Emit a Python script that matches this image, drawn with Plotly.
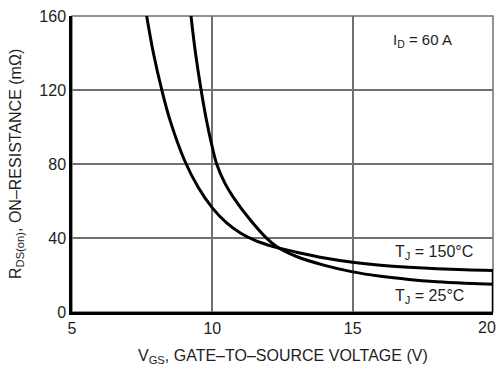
import plotly.graph_objects as go

# Data
vgs_150 = [7.66, 7.9, 8.2, 8.5, 9.0, 9.5, 10.0, 10.5, 11.0, 11.5, 12.0, 12.5, 13.0, 14.0, 15.0, 16.0, 17.0, 18.0, 19.0, 20.0]
r_150 = [160, 140, 120, 103.3, 82.3, 67.3, 56.3, 48.3, 42.7, 38.8, 36.1, 34.1, 32.3, 29.2, 26.9, 25.3, 24.2, 23.4, 22.8, 22.4]

vgs_25 = [9.24, 9.4, 9.6, 9.8, 10.0, 10.155, 10.45, 10.75, 11.34, 11.94, 12.3, 13.0, 14.0, 15.0, 16.0, 17.0, 18.0, 19.0, 20.0]
r_25 = [160, 140, 120, 103, 89, 80, 69.5, 62, 50, 39.8, 35.3, 30, 25.2, 21.7, 19.3, 17.6, 16.4, 15.6, 15.0]

x_ticks = [5, 10, 15, 20]
x_tick_labels = ["5", "10", "15", "20"]
y_ticks = [0, 40, 80, 120, 160]

FONT = "Liberation Sans, Arial, sans-serif"
TXT = "#1e1e1e"

fig = go.Figure()
for xs, ys in ((vgs_150, r_150), (vgs_25, r_25)):
    fig.add_trace(go.Scatter(x=xs, y=ys, mode="lines",
                             line=dict(color="black", width=3, shape="spline", smoothing=1.0),
                             showlegend=False))

grid_col = "#707070"
# last x tick label is drawn separately, nudged left so it stays inside the page
fig.update_xaxes(range=[5, 20], tickvals=x_ticks, ticktext=x_tick_labels[:-1] + [""],
                 showgrid=True, gridcolor=grid_col, gridwidth=1.5,
                 showline=True, linecolor="black", linewidth=2.5, zeroline=False,
                 ticks="", ticklabelstandoff=0, automargin=False,
                 tickfont=dict(family=FONT, size=16, color=TXT))
fig.update_yaxes(range=[0, 160], tickvals=y_ticks, showgrid=True, gridcolor=grid_col, gridwidth=1.5,
                 showline=True, linecolor="black", linewidth=2.5, zeroline=False,
                 ticks="", ticklabelstandoff=0, automargin=False,
                 tickfont=dict(family=FONT, size=16, color=TXT))
fig.add_annotation(x=x_ticks[-1], y=0, xref="x", yref="paper", text=x_tick_labels[-1],
                   showarrow=False, yanchor="middle", xshift=-6, yshift=-15,
                   font=dict(family=FONT, size=16, color=TXT))

# Thin gray border on top and right
fig.add_shape(type="rect", xref="paper", yref="paper", x0=0, x1=1, y0=0, y1=1,
              line=dict(color=grid_col, width=1.5), layer="below")
# Thick end segment at right edge below the upper curve
fig.add_shape(type="line", xref="x", yref="y", x0=vgs_150[-1], x1=vgs_150[-1], y0=0, y1=r_150[-1],
              line=dict(color="black", width=2.5))

fig.add_annotation(x=17.5, y=147, xref="x", yref="y", text="I<sub>D</sub> = 60 A", showarrow=False,
                   font=dict(family=FONT, size=15, color=TXT))
fig.add_annotation(x=16.44, y=32, xref="x", yref="y", text="T<sub>J</sub> = 150°C", showarrow=False,
                   xanchor="left", font=dict(family=FONT, size=16, color=TXT))
fig.add_annotation(x=16.44, y=8.4, xref="x", yref="y", text="T<sub>J</sub> = 25°C", showarrow=False,
                   xanchor="left", font=dict(family=FONT, size=16, color=TXT))

fig.add_annotation(x=0.5, y=-0.152, xref="paper", yref="paper", yanchor="middle",
                   text="V<sub>GS</sub>, GATE–TO–SOURCE VOLTAGE (V)", showarrow=False,
                   font=dict(family=FONT, size=16, color=TXT))
fig.add_annotation(x=-0.133, y=0.5, xref="paper", yref="paper", xanchor="center", textangle=-90,
                   text="R<sub>DS(on)</sub>, ON–RESISTANCE (mΩ)", showarrow=False,
                   font=dict(family=FONT, size=16, color=TXT))

fig.update_layout(width=500, height=376, margin=dict(l=72, r=7, t=16, b=64),
                  plot_bgcolor="white", paper_bgcolor="white")

fig.write_html("out.html", config={"displayModeBar": False},
               post_script="document.body.style.margin='0';")
